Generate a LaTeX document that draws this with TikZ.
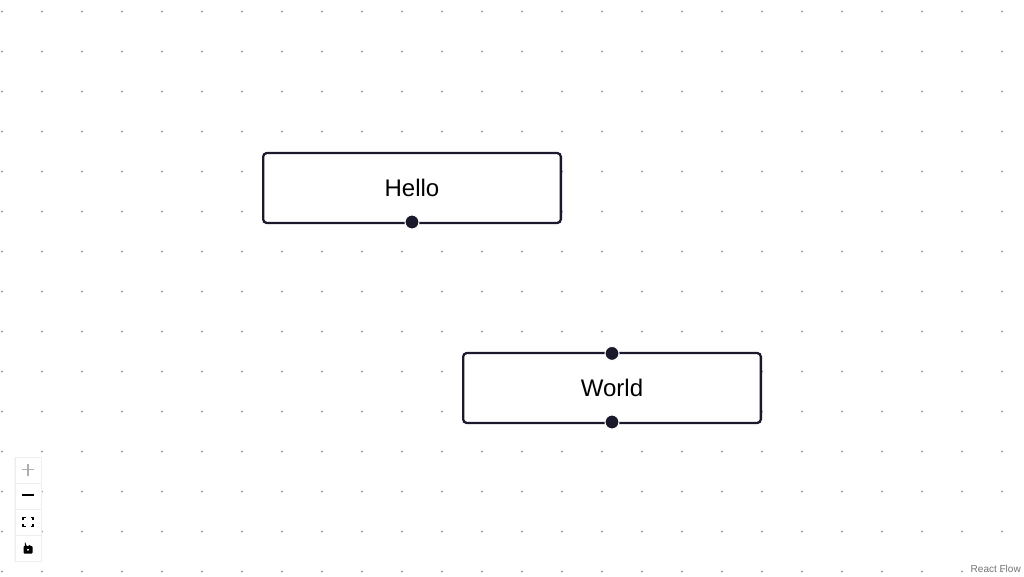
\documentclass[tikz,border=0pt]{standalone}
\usepackage{fontspec}
\setmainfont{Liberation Sans}
\definecolor{ink}{HTML}{1A192B}
\definecolor{dotc}{HTML}{919191}
\definecolor{ctrl}{HTML}{EEEEEE}
\tikzset{
  flownode/.style={draw=ink,line width=1.7pt,fill=white,rounded corners=2.8pt,minimum width=223.3pt,minimum height=52.5pt,inner sep=0pt,font=\fontsize{18}{20}\selectfont,text=black},
  handledot/.style={circle,draw=white,line width=0.75pt,fill=ink,minimum size=10.5pt,inner sep=0pt},
  griddot/.style={fill=dotc,draw=none},
  ctrlbtn/.style={draw=ctrl,line width=0.6pt,fill=white,minimum width=19.5pt,minimum height=19.5pt,inner sep=0pt},
}
\begin{document}
\begin{tikzpicture}[x=0.75pt,y=-0.75pt]
\useasboundingbox (0,0) rectangle (1024,576);
\fill[white] (0,0) rectangle (1024,576);
% background dots
\foreach \i in {0,...,25}{
  \foreach \j in {0,...,14}{
    \fill[griddot] ({2+40*\i},{11.5+40*\j}) circle[radius=1];
  }
}
% nodes
\node[flownode] (hello) at (412,188) {Hello};
\node[flownode] (world) at (612,388) {World};
\node[handledot] (hb) at (412,222) {};
\node[handledot] (wt) at (612,353.4) {};
\node[handledot] (wb) at (612,422) {};
% controls
\fill[black!6,opacity=0.5] (14,456.5) rectangle (42,562);
\node[ctrlbtn] (c1) at (28,470) {};
\node[ctrlbtn] (c2) at (28,496) {};
\node[ctrlbtn] (c3) at (28,522) {};
\node[ctrlbtn] (c4) at (28,548) {};
\draw[line width=1.4pt,draw=black!32] (22,469.5) -- (34,469.5) (28,463.5) -- (28,475.5);
\draw[line width=0.8pt,draw=black] (22,495) -- (34,495);
\draw[line width=0.95pt,draw=black] (23,520) -- (23,517.5) -- (25.5,517.5) (30.5,517.5) -- (33,517.5) -- (33,520) (33,524) -- (33,526.5) -- (30.5,526.5) (25.5,526.5) -- (23,526.5) -- (23,524);
\fill[black,rounded corners=0.6pt] (23.5,546) rectangle (32.5,553.5);
\fill[white] (28,549.7) circle[radius=1.1];
\draw[line width=0.8pt,draw=black] (25.5,546) -- (25.5,544.5) arc[start angle=180,end angle=20,radius=2.4];
% attribution
\node[inner sep=0pt,text=black!55,font=\fontsize{7.5}{9}\selectfont,anchor=base east] (attr) at (1021,572) {React Flow};
\end{tikzpicture}
\end{document}
